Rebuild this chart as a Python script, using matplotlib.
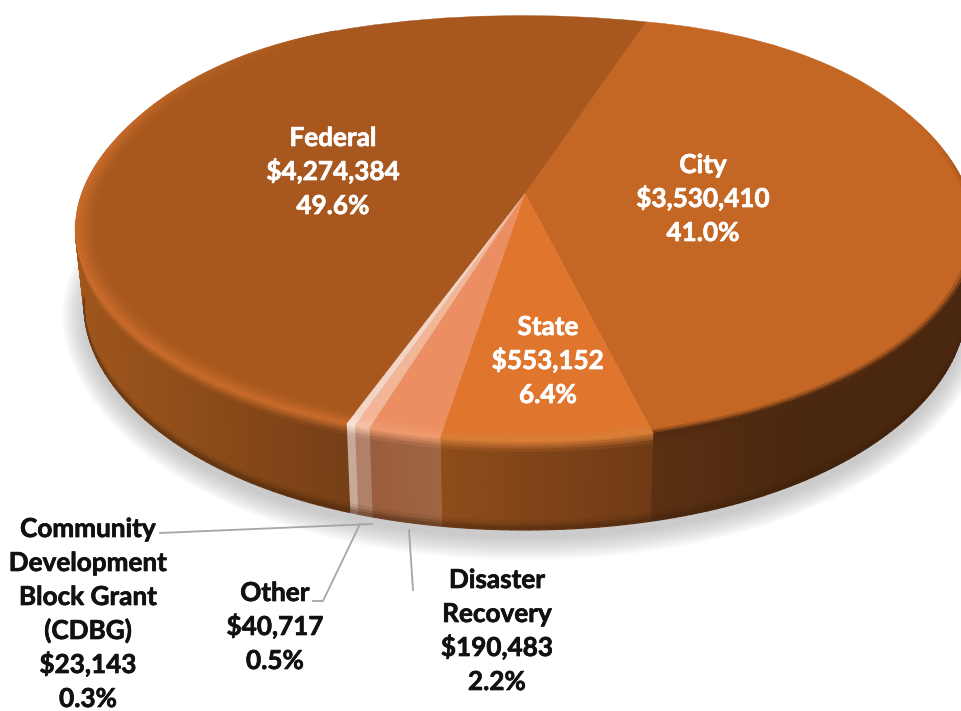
import numpy as np
import matplotlib
matplotlib.use('Agg')
import matplotlib.pyplot as plt
import matplotlib.patheffects as pe
from matplotlib.collections import PolyCollection
from matplotlib.colors import to_rgb
from matplotlib.transforms import Transform

# data, clockwise from the back of the pie
names = ['City', 'State', 'Disaster\nRecovery', 'Other', 'Community\nDevelopment\nBlock Grant\n(CDBG)', 'Federal']
values = [3530410, 553152, 190483, 40717, 23143, 4274384]
percents = ['41.0%', '6.4%', '2.2%', '0.5%', '0.3%', '49.6%']

top_colors = ['#C46624', '#E0752E', '#EB8F62', '#F2B597', '#F3D5C6', '#A8581E']
rim_colors = ['#4E2A10', '#D97F38', '#F09C70', '#F6C4A8', '#FBE6DA', '#CC6E2C']
side_left = ['#5C3112', '#8F4C1B', '#9A5E3E', '#B08068', '#C8A898', '#A0561C']
side_right = ['#4A270F', '#6E3A15', '#A06643', '#B08068', '#C8A898', '#753F16']

START = 18.5  # degrees clockwise from the back
# perspective of the disc, in picture pixels
CX, CY, A, B, K = 525.0, 193.0, 443.0, 206.0, 0.17
MIDY = 229.0
DEPTH = 93.0


class Persp(Transform):
    input_dims = 2
    output_dims = 2
    is_separable = False
    has_inverse = False

    def transform_non_affine(self, xy):
        xy = np.asarray(xy, dtype=float)
        u, v = xy[:, 0], xy[:, 1]
        w = 1 + K * v
        # the back half of the original is fuller than a true ellipse
        bulge = 8 * (2 * u * np.clip(v, 0, None)) ** 2
        return np.column_stack([CX + A * u / w, CY - B * v / w - bulge])


persp = Persp()


def rim(theta, r=1.0):
    t = np.radians(theta)
    return persp.transform_non_affine(np.column_stack([r * np.sin(t), r * np.cos(t)]))


def lower(p):
    # bottom of the wall: same ellipse moved down, a little narrower, fuller at the ends
    dx = (p[:, 0] - CX) * 0.98
    return np.column_stack([CX + dx, MIDY + DEPTH + (p[:, 1] - MIDY) * 0.98 - 14 * (dx / 441) ** 4])


def mix(c1, c2, t):
    return tuple(np.array(to_rgb(c1)) * (1 - t) + np.array(to_rgb(c2)) * t)


def fade(i, theta):
    # bevel strength along the rim
    if i == 0:
        return np.clip((theta - 70) / 50, 0, 1)
    if i == 5:
        return np.clip((330 - theta) / 50, 0, 1)
    return 1.0


fig = plt.figure(figsize=(9.62, 7.11), dpi=100)
ax = fig.add_axes([0, 0, 1, 1])

edges = START + 360 * np.concatenate([[0], np.cumsum(values)]) / np.sum(values)

# soft shadow under the disc
ring = np.linspace(0, 360, 361)
base = lower(rim(ring))
for g in np.linspace(22, 0, 14):
    sx = CX + (base[:, 0] - CX) * (1 + g / 442)
    sy = 330 + (base[:, 1] - (MIDY + DEPTH)) * (1 + g / 210)
    ax.fill(sx, sy, color='#9A9A9A', alpha=0.045, lw=0, zorder=1)

# wall, only the part that faces the viewer
polys, cols = [], []
rows = [0, 0.03, 0.06, 0.09, 0.13, 0.90, 0.94, 0.97, 1.0]
for i in range(len(values)):
    lo, hi = max(edges[i], 98), min(edges[i + 1], 262)
    if hi <= lo:
        continue
    th = np.linspace(lo, hi, max(2, int(hi - lo) + 2))
    p0 = rim(th)
    p1 = lower(p0)
    xs = p0[:, 0]
    if i == 5:
        # Federal wraps round the left end, shading depends on x
        x_lo, x_hi = 75.0, 350.0
    elif i == 0:
        x_lo, x_hi = 646.0, 800.0
    else:
        x_lo, x_hi = xs.min(), xs.max()
    for j in range(len(th) - 1):
        xm = (xs[j] + xs[j + 1]) / 2
        c = mix(side_left[i], side_right[i], np.clip((xm - x_lo) / (x_hi - x_lo + 1e-6), 0, 1))
        for a, b in zip(rows[:-1], rows[1:]):
            q = [p0[j] + (p1[j] - p0[j]) * a, p0[j + 1] + (p1[j + 1] - p0[j + 1]) * a,
                 p0[j + 1] + (p1[j + 1] - p0[j + 1]) * b, p0[j] + (p1[j] - p0[j]) * b]
            m = (a + b) / 2
            if m < 0.13:
                col = mix(c, rim_colors[i], fade(i, th[j]) * (1 - m / 0.13))
            elif m > 0.9:
                col = mix(c, '#3A1E0A', (m - 0.9) / 0.1 * 0.55)
            else:
                col = c
            polys.append(q)
            cols.append(col)
ax.add_collection(PolyCollection(polys, facecolors=cols, edgecolors=cols, linewidths=0.9, zorder=2))

# top of the disc
wedges, _ = ax.pie(values, colors=top_colors, startangle=90 - START, counterclock=False,
                   wedgeprops={'linewidth': 0.3, 'zorder': 3})
for i, w in enumerate(wedges):
    w.set_edgecolor(top_colors[i])
    w.set_transform(persp + ax.transData)

# bevel along the edge of the top
polys, cols = [], []
radii = np.linspace(1.0, 0.955, 10)
for i in range(len(values)):
    th = np.linspace(edges[i], edges[i + 1], max(2, int(edges[i + 1] - edges[i]) + 2))
    width = 0.012 if i == 0 else 0.045
    for j in range(len(th) - 1):
        f0 = fade(i, th[j])
        if f0 <= 0:
            continue
        for r1, r2 in zip(radii[:-1], radii[1:]):
            d = (1 - (r1 + r2) / 2) / width
            if d >= 1:
                continue
            # strongest at the edge, gone further in
            k = (1 - d) ** 1.3 * f0
            col = mix(top_colors[i], rim_colors[i], k)
            a = rim(th[j:j + 2], r1)
            b = rim(th[j:j + 2], r2)
            polys.append([a[0], a[1], b[1], b[0]])
            cols.append(col)
ax.add_collection(PolyCollection(polys, facecolors=cols, edgecolors=cols, linewidths=0.5, zorder=4))

ax.set_aspect('auto')
ax.set_xlim(0, 962)
ax.set_ylim(711, 0)
ax.axis('off')

# leader lines
grey = '#A6A6A6'
ax.plot([160, 372], [533, 524], color=grey, lw=1.3, zorder=5)
ax.plot([313, 323, 360], [601, 601, 524], color=grey, lw=1.3, zorder=5)
ax.plot([409, 413], [530, 590], color=grey, lw=1.3, zorder=5)


# labels, one text per line so the pitch stays even
def label(i, x, y, color):
    lines = names[i].split('\n') + ['$' + format(values[i], ','), percents[i]]
    for n, line in enumerate(lines):
        t = ax.text(x, y + n * 34, line, color=color, family='Lato', weight='bold', fontsize=18.8,
                    ha='center', va='baseline', zorder=6)
        t.set_path_effects([pe.withStroke(linewidth=0.5, foreground=color)])


label(5, 333, 146, 'white')
label(0, 703, 173, 'white')
label(1, 548, 335, 'white')
label(3, 275, 601, '#111111')
label(2, 497, 588, '#111111')
label(4, 88, 537, '#111111')

fig.savefig('out.png', dpi=100)
